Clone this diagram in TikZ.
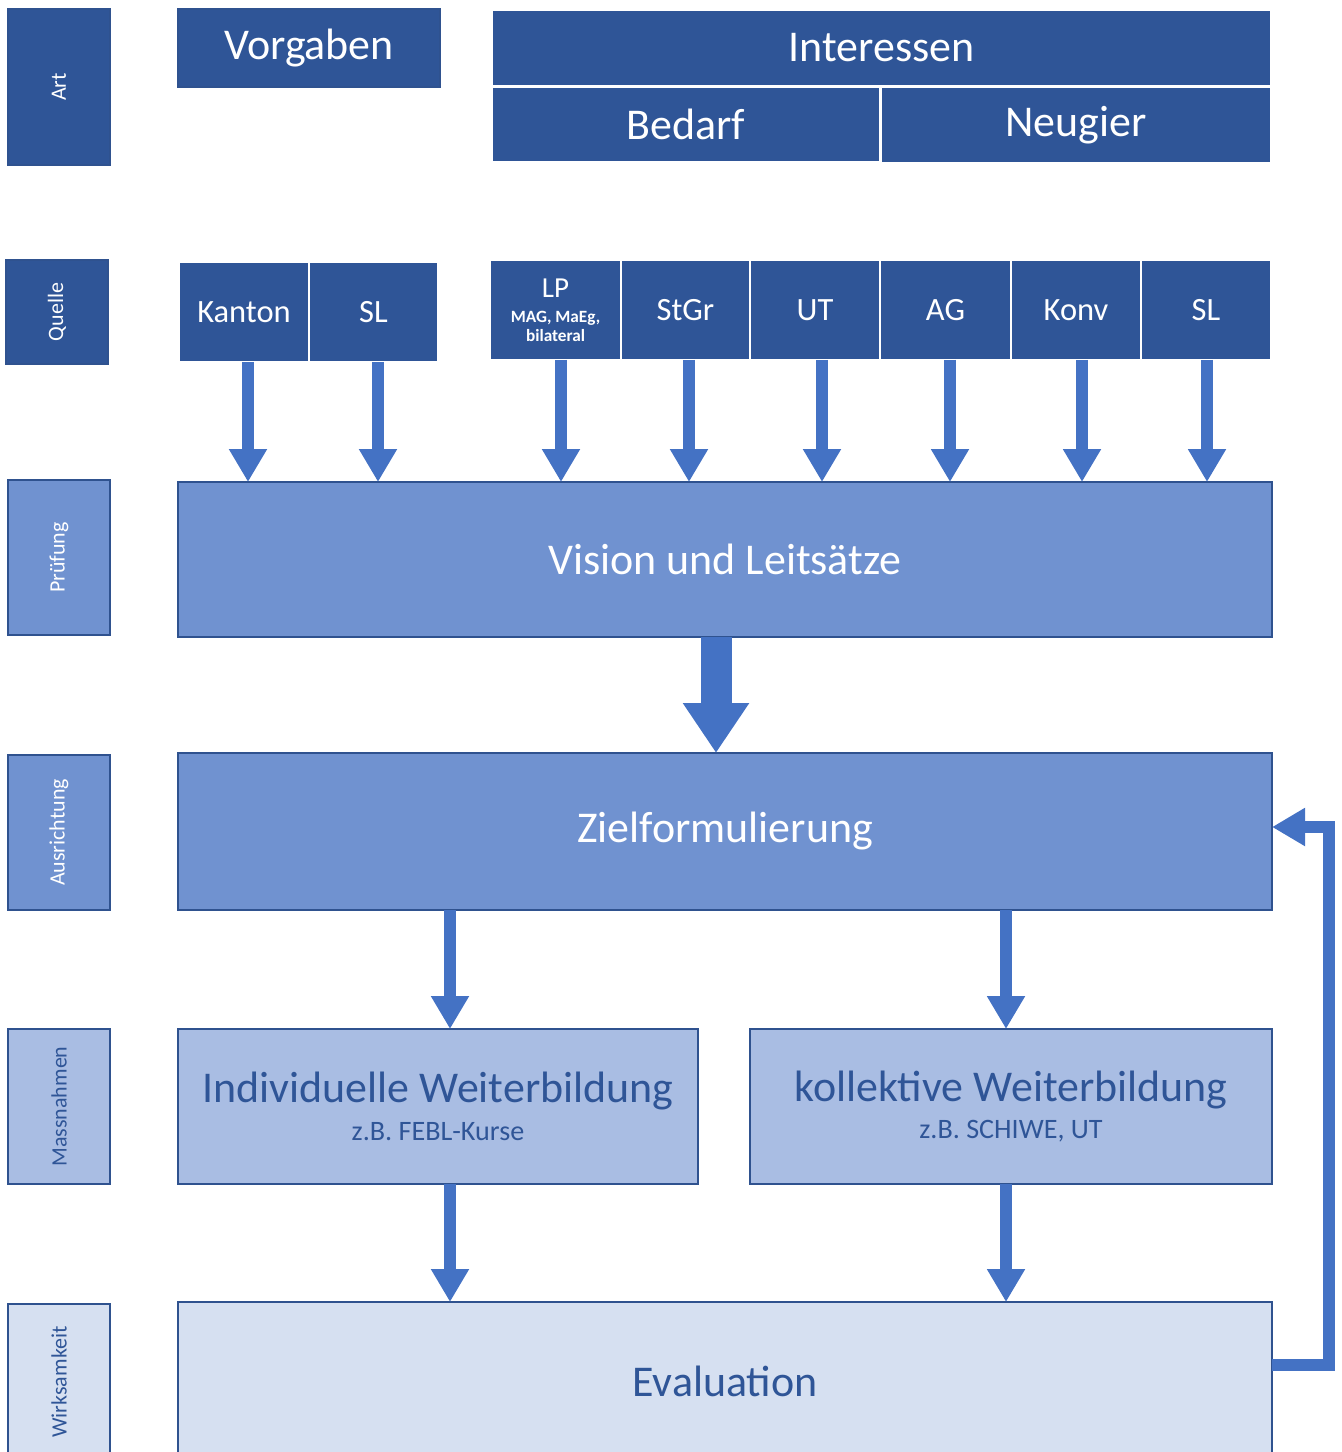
\documentclass[tikz,border=0pt]{standalone}
\usepackage{fontspec}
\setmainfont{Carlito}
\usetikzlibrary{arrows.meta}
\definecolor{dkb}{HTML}{2F5597}
\definecolor{mdb}{HTML}{7092D0}
\definecolor{ltb}{HTML}{A9BDE3}
\definecolor{vlb}{HTML}{D6E0F1}
\definecolor{arb}{HTML}{4472C4}
\definecolor{brd}{HTML}{2F528F}
\newcommand\boxat[7]{\node[#1, minimum width={(#5-#3)*0.02cm}, minimum height={(#6-#4)*0.02cm}] (#2) at ({(#3+#5)/2},{(#4+#6)/2}) {#7};}
\tikzset{
  base/.style={rectangle, inner sep=0pt, outer sep=0pt, line width=0.6pt, align=center},
  darkbox/.style={base, fill=dkb, draw=brd, text=white},
  darkcell/.style={base, fill=dkb, draw=white, line width=1pt, text=white},
  medbox/.style={base, fill=mdb, draw=brd, text=white},
  ltbox/.style={base, fill=ltb, draw=brd, text=dkb},
  vlbox/.style={base, fill=vlb, draw=brd, text=dkb},
  bigtxt/.style={font=\fontsize{25}{29}\selectfont},
  midtxt/.style={font=\fontsize{18.5}{21}\selectfont},
  twoline/.style={font=\fontsize{25}{28}\selectfont},
  lptxt/.style={font=\fontsize{9.8}{10.5}\selectfont},
  sidetxt/.style={rotate=90, font=\fontsize{12.5}{14}\selectfont, inner sep=0pt},
  flow/.style={draw=arb, line width=0.24cm, -{Triangle[width=0.72cm,length=0.66cm]}},
  bigflow/.style={draw=arb, line width=0.62cm, -{Triangle[width=1.26cm,length=1.0cm]}},
}
\begin{document}
\begin{tikzpicture}[x=0.02cm, y=-0.02cm]
\useasboundingbox (0,0) rectangle (1341,1452);
% side labels
\boxat{darkbox}{sart}{8}{9}{110}{165}{}
\node[sidetxt, text=white] at (sart) {Art};
\boxat{darkbox}{squelle}{6}{260}{108}{364}{}
\node[sidetxt, text=white] at (squelle) {Quelle};
\boxat{medbox}{spruef}{8}{480}{110}{635}{}
\node[sidetxt, text=white] at (spruef) {Prüfung};
\boxat{medbox}{sausr}{8}{755}{110}{910}{}
\node[sidetxt, text=white] at (sausr) {Ausrichtung};
\boxat{ltbox}{smass}{8}{1029}{110}{1184}{}
\node[sidetxt, text=dkb] at (smass) {Massnahmen};
\boxat{vlbox}{swirk}{8}{1304}{110}{1470}{}
\node[sidetxt, text=dkb] at (8+51,1304+78) {Wirksamkeit};
% Art row
\boxat{darkbox,bigtxt}{vorg}{178}{9}{440}{87}{Vorgaben}
\boxat{darkcell,bigtxt}{inter}{492}{10}{1271}{86}{Interessen}
\boxat{darkcell,bigtxt}{bedarf}{492}{87}{880}{162}{Bedarf}
\boxat{darkcell,bigtxt}{neug}{881}{87}{1271}{163}{Neugier}
% Quelle row
\boxat{darkcell,midtxt}{kanton}{179}{262}{309}{362}{Kanton}
\boxat{darkcell,midtxt}{slA}{309}{262}{438}{362}{SL}
\boxat{darkcell,lptxt}{lp}{490}{260}{621}{360}{{\fontsize{16.5}{18}\selectfont LP}\\[3.8pt]\bfseries MAG, MaEg,\\\bfseries bilateral}
\boxat{darkcell,midtxt}{stgr}{621}{260}{750}{360}{StGr}
\boxat{darkcell,midtxt}{ut}{750}{260}{880}{360}{UT}
\boxat{darkcell,midtxt}{ag}{880}{260}{1011}{360}{AG}
\boxat{darkcell,midtxt}{konv}{1011}{260}{1141}{360}{Konv}
\boxat{darkcell,midtxt}{slB}{1141}{260}{1271}{360}{SL}
% main boxes
\boxat{medbox,bigtxt}{vision}{178}{482}{1272}{637}{Vision und Leitsätze}
\boxat{medbox,bigtxt}{ziel}{178}{753}{1272}{910}{Zielformulierung}
\boxat{ltbox,twoline}{indiv}{178}{1029}{698}{1184}{Individuelle Weiterbildung\\[-6.5pt]{\fontsize{16}{18}\selectfont z.B. FEBL-Kurse}}
\boxat{ltbox,twoline}{koll}{750}{1029}{1272}{1184}{kollektive Weiterbildung\\[-6.5pt]{\fontsize{16}{18}\selectfont z.B. SCHIWE, UT}}
\boxat{vlbox}{eval}{178}{1302}{1272}{1470}{}
\node[bigtxt, text=dkb] (evaltxt) at (725,1381) {Evaluation};
% arrows from sources
\foreach \n/\xx in {kanton/248, slA/378, lp/561, stgr/689, ut/822, ag/950, konv/1082, slB/1207}{
  \draw[flow] (\xx,0 |- \n.south) -- (\xx,0 |- vision.north);
}
\draw[bigflow] (716,0 |- vision.south) -- (716,0 |- ziel.north);
\draw[flow] (450,0 |- ziel.south) -- (450,0 |- indiv.north);
\draw[flow] (1006,0 |- ziel.south) -- (1006,0 |- koll.north);
\draw[flow] (450,0 |- indiv.south) -- (450,0 |- eval.north);
\draw[flow] (1006,0 |- koll.south) -- (1006,0 |- eval.north);
% feedback
\coordinate (fbA) at (eval.east |- 0,1365);
\coordinate (fbB) at (ziel.east |- 0,827);
\draw[flow, line join=miter] (fbA) -- (1329,1365) -- (1329,827) -- (fbB);
\end{tikzpicture}
\end{document}
